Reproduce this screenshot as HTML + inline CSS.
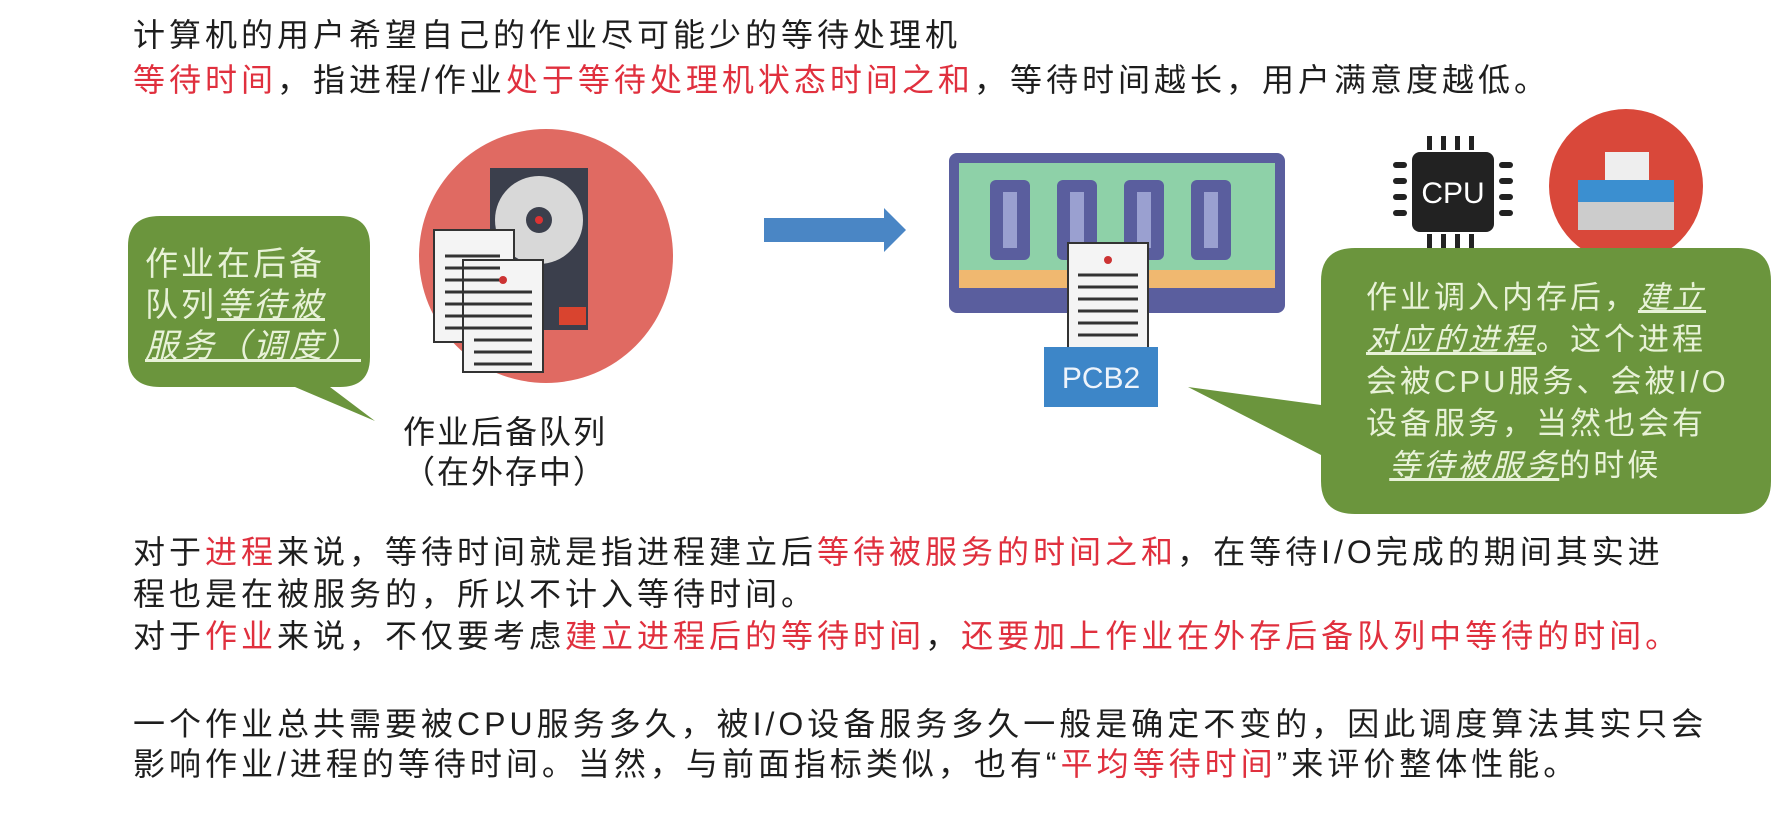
<!DOCTYPE html>
<html><head><meta charset="utf-8"><style>
body{margin:0;width:1783px;height:818px;background:#fff;position:relative;overflow:hidden;font-family:"Liberation Sans","Noto Sans CJK SC",sans-serif;}
.t{position:absolute;left:133px;font-size:32px;letter-spacing:4px;color:#1e1e1e;white-space:nowrap;line-height:40px;}
.r{color:#e0303e}
.b{position:absolute;color:#e8f2d8;white-space:nowrap;}
.u{text-decoration:underline;font-style:italic;}
</style></head><body>
<svg width="1783" height="818" style="position:absolute;left:0;top:0">
<path d="M160 216 H340 Q370 216 370 246 V357 Q370 387 340 387 H330 L375 421 L295 387 H160 Q128 387 128 357 V246 Q128 216 160 216Z" fill="#6b953d"/>
<circle cx="546" cy="256" r="127" fill="#e06a62"/>
<rect x="490" y="168" width="98" height="162" fill="#3b3f4c"/>
<circle cx="539" cy="220" r="44" fill="#d8d8d8"/>
<circle cx="539" cy="220" r="13" fill="#3b3f4c"/>
<circle cx="539" cy="220" r="4" fill="#d33"/>
<rect x="559" y="307" width="27" height="18" fill="#d9442f"/>
<g stroke="#333" stroke-width="2" fill="#f4f4f4">
<rect x="434" y="230" width="80" height="112"/>
<rect x="463" y="260" width="80" height="112"/>
</g>
<g stroke="#333" stroke-width="3">
<path d="M445 256h55M445 268h55M445 280h55M445 292h55M445 304h55M445 316h55M445 328h55"/>
<path d="M474 292h58M474 304h58M474 316h58M474 328h58M474 340h58M474 352h58M474 364h58"/>
</g>
<circle cx="503" cy="280" r="4" fill="#c33"/>
<path d="M764 218 H884 V208 L906 230 L884 252 V242 H764Z" fill="#4a86c5"/>
<rect x="949" y="153" width="336" height="160" rx="8" fill="#5a5e9e"/>
<rect x="959" y="163" width="316" height="125" fill="#8ed1a8"/>
<rect x="959" y="270" width="316" height="18" fill="#f0b870"/>
<g fill="#5a5e9e"><rect x="990" y="180" width="40" height="80" rx="6"/><rect x="1057" y="180" width="40" height="80" rx="6"/><rect x="1124" y="180" width="40" height="80" rx="6"/><rect x="1191" y="180" width="40" height="80" rx="6"/></g>
<g fill="#9aa0d0"><rect x="1003" y="192" width="14" height="56"/><rect x="1070" y="192" width="14" height="56"/><rect x="1137" y="192" width="14" height="56"/><rect x="1204" y="192" width="14" height="56"/></g>
<rect x="1068" y="243" width="80" height="105" fill="#f4f4f4" stroke="#333" stroke-width="2"/>
<g stroke="#333" stroke-width="3"><path d="M1078 275h60M1078 287h60M1078 299h60M1078 311h60M1078 323h60M1078 335h60"/></g>
<circle cx="1108" cy="260" r="4" fill="#c33"/>
<rect x="1044" y="347" width="114" height="60" fill="#3d86c8"/>
<text x="1101" y="388" font-size="30" fill="#eef4fb" text-anchor="middle" font-family="Liberation Sans">PCB2</text>
<g fill="#222">
<rect x="1412" y="152" width="82" height="80" rx="8"/>
<rect x="1427" y="136" width="5" height="14"/><rect x="1441" y="136" width="5" height="14"/><rect x="1455" y="136" width="5" height="14"/><rect x="1469" y="136" width="5" height="14"/>
<rect x="1427" y="234" width="5" height="14"/><rect x="1441" y="234" width="5" height="14"/><rect x="1455" y="234" width="5" height="14"/><rect x="1469" y="234" width="5" height="14"/>
<rect x="1393" y="162" width="14" height="6" rx="3"/><rect x="1393" y="178" width="14" height="6" rx="3"/><rect x="1393" y="194" width="14" height="6" rx="3"/><rect x="1393" y="210" width="14" height="6" rx="3"/>
<rect x="1499" y="162" width="14" height="6" rx="3"/><rect x="1499" y="178" width="14" height="6" rx="3"/><rect x="1499" y="194" width="14" height="6" rx="3"/><rect x="1499" y="210" width="14" height="6" rx="3"/>
</g>
<text x="1453" y="203" font-size="30" fill="#fff" text-anchor="middle" font-family="Liberation Sans">CPU</text>
<circle cx="1626" cy="186" r="77" fill="#d9483a"/>
<rect x="1605" y="152" width="44" height="40" fill="#eee"/>
<rect x="1578" y="180" width="96" height="22" fill="#3b8fd0"/>
<rect x="1578" y="202" width="96" height="28" fill="#ccc"/>
<path d="M1355 248 H1738 Q1771 248 1771 281 V481 Q1771 514 1738 514 H1355 Q1321 514 1321 481 V455 L1188 387 L1321 405 V281 Q1321 248 1355 248Z" fill="#6b953d"/>
</svg>
<div class="t" style="top:15px">计算机的用户希望自己的作业尽可能少的等待处理机</div>
<div class="t" style="top:60px"><span class="r">等待时间</span>，指进程/作业<span class="r">处于等待处理机状态时间之和</span>，等待时间越长，用户满意度越低。</div>
<div class="b" style="left:145px;top:243px;font-size:33px;letter-spacing:3px;line-height:41px">作业在后备<br>队列<span class="u">等待被</span><br><span class="u">服务（调度）</span></div>
<div class="t" style="left:403px;top:412px;letter-spacing:2px;line-height:40px">作业后备队列<br>（在外存中）</div>
<div class="b" style="left:1366px;top:277px;font-size:31px;letter-spacing:3px;line-height:42px">作业调入内存后，<span class="u">建立</span><br><span class="u">对应的进程</span>。这个进程<br>会被CPU服务、会被I/O<br>设备服务，当然也会有<br>&nbsp;&nbsp;<span class="u">等待被服务</span>的时候</div>
<div class="t" style="top:532px">对于<span class="r">进程</span>来说，等待时间就是指进程建立后<span class="r">等待被服务的时间之和</span>，在等待I/O完成的期间其实进</div>
<div class="t" style="top:574px">程也是在被服务的，所以不计入等待时间。</div>
<div class="t" style="top:616px">对于<span class="r">作业</span>来说，不仅要考虑<span class="r">建立进程后的等待时间</span>，<span class="r">还要加上作业在外存后备队列中等待的时间。</span></div>
<div class="t" style="top:704px">一个作业总共需要被CPU服务多久，被I/O设备服务多久一般是确定不变的，因此调度算法其实只会</div>
<div class="t" style="top:744px">影响作业/进程的等待时间。当然，与前面指标类似，也有“<span class="r">平均等待时间</span>”来评价整体性能。</div>
</body></html>
